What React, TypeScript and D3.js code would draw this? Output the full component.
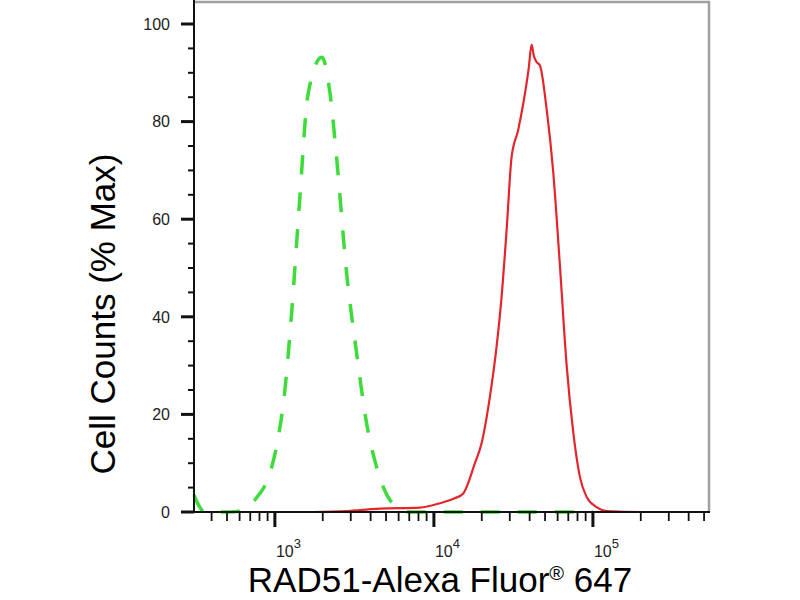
import React from "react";
import * as d3 from "d3";

// Fluorescence intensity (RAD51-Alexa Fluor 647) and % max counts
const controlIntensity = [310, 330, 360, 420, 520, 630, 767, 931, 1044, 1156, 1274, 1436, 1614, 1975, 2218, 2443, 2825, 3265, 3773, 4363, 5140, 5938, 7000, 10000, 30000, 100000];
const controlPercent = [3.5, 1.5, 0, 0, 0, 0.4, 2.9, 8.0, 14.8, 25, 40.8, 64.5, 85.5, 93.2, 86, 72.7, 49, 32.6, 18.2, 9.2, 3.1, 1.0, 0, 0, 0, 0];

const sampleIntensity = [1734, 2838, 3425, 4571, 8166, 10905, 13500, 15290, 18110, 19950, 22490, 24780, 26650, 28660, 30820, 33900, 36470, 39500, 41140, 42500, 44240, 46430, 51140, 56280, 61980, 68340, 75180, 82790, 91250, 105400, 121900, 200000, 537000];
const samplePercent = [0, 0.2, 0.4, 0.7, 0.9, 1.8, 2.8, 3.8, 10.0, 14.1, 23.6, 33.9, 44.1, 57.8, 72.8, 78.3, 83.7, 91, 95.8, 93.5, 92.2, 91.5, 82.6, 69.7, 50.6, 30.1, 16.4, 7.2, 3.1, 1.0, 0.2, 0, 0];

const yMajorTicks = [0, 20, 40, 60, 80, 100];
const yMinorTicks = [5, 10, 15, 25, 30, 35, 45, 50, 55, 65, 70, 75, 85, 90, 95];
const xMajorTicks = [1000, 10000, 100000];
const xMajorExponents = ["3", "4", "5"];
const xMinorTicks = [400, 500, 600, 700, 800, 900, 2000, 3000, 4000, 5000, 6000, 7000, 8000, 9000, 20000, 30000, 40000, 50000, 60000, 70000, 80000, 90000, 200000, 300000, 400000, 500000];

const xTitle = "RAD51-Alexa Fluor";
const xTitleSup = "®";
const xTitleEnd = " 647";
const yTitle = "Cell Counts (% Max)";

const FONT = "'Liberation Sans', Arial, Helvetica, sans-serif";

export default function App() {
  const left = 194, right = 709, top = 24, bottom = 512;
  const x = d3.scaleLog().domain([310, 537000]).range([left, right]);
  const y = d3.scaleLinear().domain([0, 100]).range([bottom, top]);

  const line = d3
    .line<[number, number]>()
    .x((d) => x(d[0]))
    .y((d) => y(d[1]))
    .curve(d3.curveMonotoneX);

  const controlPath = line(controlIntensity.map((v, i) => [v, controlPercent[i]]) as [number, number][]) || "";
  const samplePath = line(sampleIntensity.map((v, i) => [v, samplePercent[i]]) as [number, number][]) || "";

  return (
    <svg
      width={800}
      height={600}
      style={{ position: "absolute", left: 0, top: 0, background: "#fff" }}
      fontFamily={FONT}
    >
      <rect x={0} y={0} width={800} height={600} fill="#fff" />
      {/* frame top/right */}
      <line x1={left} x2={right + 1} y1={2} y2={2} stroke="#a0a0a0" strokeWidth={2.5} />
      <line x1={right} x2={right} y1={1} y2={bottom} stroke="#a0a0a0" strokeWidth={2.5} />

      {/* curves */}
      <path d={controlPath} fill="none" stroke="#3ddc3a" strokeWidth={3.5} strokeDasharray="19 18" />
      <path d={samplePath} fill="none" stroke="#e3262b" strokeWidth={2.2} strokeLinejoin="round" />

      {/* y axis */}
      <line x1={left} x2={left} y1={0} y2={bottom + 1} stroke="#111" strokeWidth={2} />
      {yMajorTicks.map((t) => (
        <g key={"ym" + t}>
          <line x1={left - 13} x2={left} y1={y(t)} y2={y(t)} stroke="#111" strokeWidth={3} />
          <text x={170} y={y(t)} dy="0.36em" textAnchor="end" fontSize={16} fill="#222">
            {t}
          </text>
        </g>
      ))}
      {yMinorTicks.map((t) => (
        <line key={"yn" + t} x1={left - 6} x2={left} y1={y(t)} y2={y(t)} stroke="#111" strokeWidth={2} />
      ))}

      {/* x axis */}
      <line x1={left - 13} x2={right + 1} y1={bottom} y2={bottom} stroke="#111" strokeWidth={2} />
      {xMajorTicks.map((t, i) => (
        <g key={"xm" + t}>
          <line x1={x(t)} x2={x(t)} y1={bottom} y2={bottom + 15} stroke="#111" strokeWidth={3} />
          <text x={x(t) + 1} y={557} fontSize={16} fill="#222">
            10
            <tspan dy={-9} fontSize={13}>
              {xMajorExponents[i]}
            </tspan>
          </text>
        </g>
      ))}
      {xMinorTicks.map((t) => (
        <line key={"xn" + t} x1={x(t)} x2={x(t)} y1={bottom} y2={bottom + 9} stroke="#111" strokeWidth={1.8} />
      ))}

      {/* titles */}
      <text x={440} y={592} textAnchor="middle" fontSize={35} fill="#000">
        {xTitle}
        <tspan dy={-12} fontSize={20}>
          {xTitleSup}
        </tspan>
        <tspan dy={12}>{xTitleEnd}</tspan>
      </text>
      <text
        transform="translate(115,314) rotate(-90)"
        textAnchor="middle"
        fontSize={35}
        fill="#000"
      >
        {yTitle}
      </text>
    </svg>
  );
}
